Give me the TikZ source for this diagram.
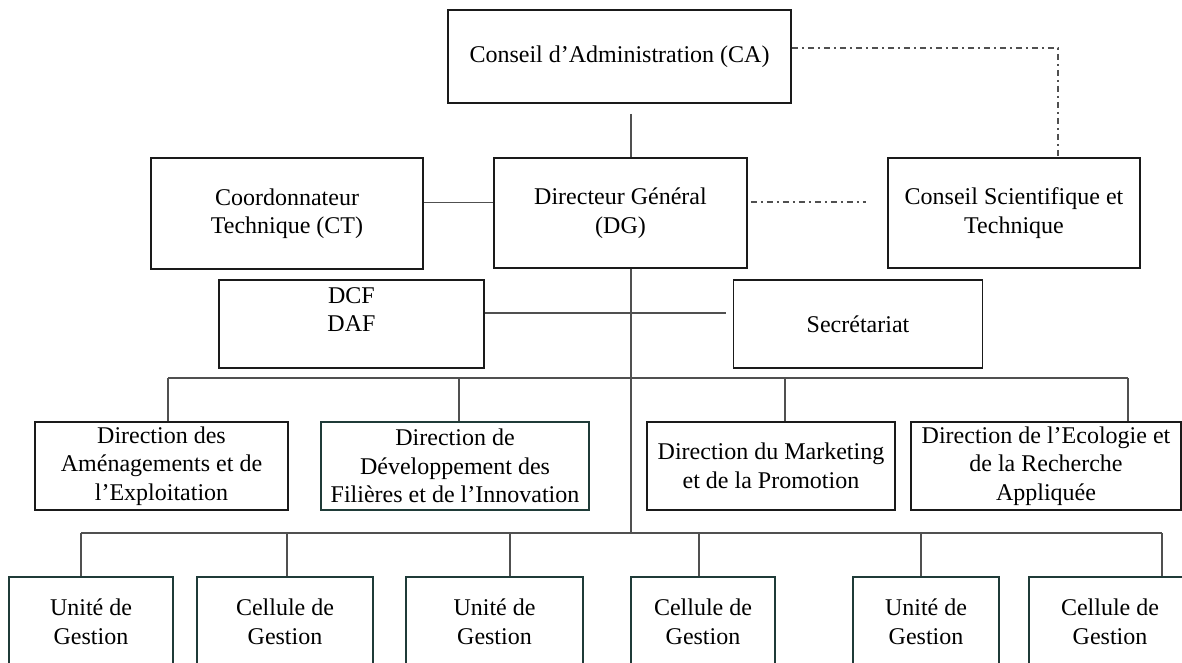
\documentclass[tikz,border=0pt]{standalone}
\usepackage{fontspec}
\setmainfont{Liberation Serif}
\usepackage{xcolor}
\usepackage{tikz}
\definecolor{boxline}{HTML}{1A1A1A}
\definecolor{tealline}{HTML}{1F3B38}
\definecolor{linkgray}{HTML}{505050}

\begin{document}
\begin{tikzpicture}[
    x=0.5pt, y=-0.5pt,
    block/.style={rectangle, draw=boxline, line width=0.9pt, align=center, inner sep=1pt, font=\fontsize{12pt}{14.25pt}\selectfont},
    tealblock/.style={block, draw=tealline},
    line/.style={draw=linkgray, line width=0.9pt},
    link/.style={draw=linkgray, line width=0.9pt, dash pattern=on 3pt off 2pt on 1pt off 2pt}
]
    \useasboundingbox (0,0) rectangle (1182,663);

    % Nodes
    \node [block, minimum width=171.5pt, minimum height=46.5pt] (ca) at (619.5,56.5) {Conseil d’Administration (CA)};
    \node [block, minimum width=136pt, minimum height=55.5pt] (ct) at (287,213.5) {Coordonnateur\\Technique (CT)};
    \node [block, minimum width=126.5pt, minimum height=55pt] (dg) at (620.5,213) {Directeur Général\\(DG)};
    \node [block, minimum width=126pt, minimum height=55pt] (cst) at (1014,213) {Conseil Scientifique et\\Technique};
    \node [block, minimum width=132.5pt, minimum height=44pt] (dcf) at (351.5,324) {DCF\\DAF\\~};
    \node [block, minimum width=124.5pt, minimum height=44pt] (sec) at (858,324) {Secrétariat};

    \node [block, minimum width=126.5pt, minimum height=44pt] (dae) at (161.5,466) {Direction des\\Aménagements et de\\l’Exploitation};
    \node [tealblock, minimum width=134pt, minimum height=44pt] (ddfi) at (455,466) {Direction de\\Développement des\\Filières et de l’Innovation};
    \node [block, minimum width=124pt, minimum height=44pt] (dmp) at (771,466) {Direction du Marketing\\et de la Promotion};
    \node [block, minimum width=135pt, minimum height=44pt] (dera) at (1046,466) {Direction de l’Ecologie et\\de la Recherche\\Appliquée};

    \node [tealblock, minimum width=82pt, minimum height=45pt] (ug1) at (91,622) {Unité de\\Gestion};
    \node [tealblock, minimum width=88pt, minimum height=45pt] (cg1) at (285,622) {Cellule de\\Gestion};
    \node [tealblock, minimum width=88.5pt, minimum height=45pt] (ug2) at (494.5,622) {Unité de\\Gestion};
    \node [tealblock, minimum width=72pt, minimum height=45pt] (cg2) at (703,622) {Cellule de\\Gestion};
    \node [tealblock, minimum width=73pt, minimum height=45pt] (ug3) at (926,622) {Unité de\\Gestion};
    \node [tealblock, minimum width=81pt, minimum height=45pt] (cg3) at (1110,622) {Cellule de\\Gestion};

    % Edges
    \coordinate (caLink) at (1058,48);
    \coordinate (spine) at (631,533);
    \coordinate (bus1L) at (168,378);
    \coordinate (bus1R) at (1128,378);
    \coordinate (bus2L) at (81,533);
    \coordinate (bus2R) at (1162,533);

    \draw [line, shorten <=5pt] (ca.south -| spine) -- (dg.north -| spine);
    \draw [line] (dg.south -| spine) -- (spine);
    \draw [line] ([yshift=5.5pt]ct.east) -- ([yshift=5.5pt]ct.east -| dg.west);
    \draw [line, shorten >=3.5pt] ([yshift=5.5pt]dcf.east) -- ([yshift=5.5pt]dcf.east -| sec.west);
    \draw [line] (bus1L) -- (bus1R);
    \draw [line] (bus2L) -- (bus2R);
    \foreach \x/\n in {168/dae, 459/ddfi, 785/dmp, 1128/dera} {
        \coordinate (top) at (\x,378);
        \draw [line] (top) -- (top |- \n.north);
    }
    \foreach \x/\n in {81/ug1, 287/cg1, 510/ug2, 699/cg2, 921/ug3, 1162/cg3} {
        \coordinate (top) at (\x,533);
        \draw [line] (top) -- (top |- \n.north);
    }
    \draw [link, shorten <=1.5pt, shorten >=10.5pt] ([yshift=5.5pt]dg.east) -- ([yshift=5.5pt]dg.east -| cst.west);
    \draw [link] ([yshift=4.25pt]ca.east) -- (caLink) -- (caLink |- cst.north);
\end{tikzpicture}
\end{document}
